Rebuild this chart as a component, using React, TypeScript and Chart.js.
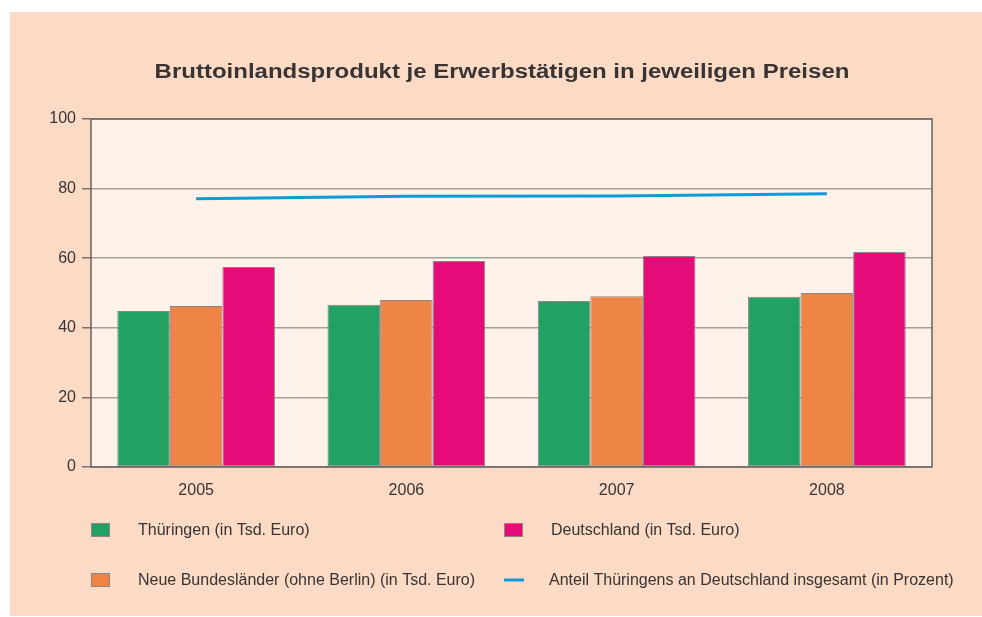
import React, { useEffect, useRef } from "react";
import { Chart, registerables } from "chart.js";

Chart.register(...registerables);

const categories = ["2005", "2006", "2007", "2008"];
const thueringen = [44.8, 46.6, 47.7, 48.9];
const neueLaender = [46.3, 48.0, 49.1, 50.0];
const deutschland = [57.5, 59.2, 60.6, 61.8];
const anteil = [77.1, 77.8, 77.9, 78.5];
const yTicks = [0, 20, 40, 60, 80, 100];

const titleText = "Bruttoinlandsprodukt je Erwerbstätigen in jeweiligen Preisen";
const labelThueringen = "Thüringen (in Tsd. Euro)";
const labelNeue = "Neue Bundesländer (ohne Berlin) (in Tsd. Euro)";
const labelDeutschland = "Deutschland (in Tsd. Euro)";
const labelAnteil = "Anteil Thüringens an Deutschland insgesamt (in Prozent)";

const FONT = "'Liberation Sans', Arial, sans-serif";
const TEXT = "#3a3333";
const GREEN = "#21a262";
const ORANGE = "#ef8447";
const MAGENTA = "#e50c7a";
const BLUE = "#0d9ad8";
const BAR_BORDER = "#8f8682";

const W = 972;
const H = 604;

const decorPlugin = {
  id: "decor",
  beforeDraw(chart: any) {
    const { ctx, chartArea: a } = chart;
    ctx.save();
    ctx.fillStyle = "#fdf2e9";
    ctx.fillRect(a.left, a.top, a.right - a.left, a.bottom - a.top);
    ctx.restore();
  },
  afterDraw(chart: any) {
    const { ctx, chartArea: a } = chart;
    ctx.save();
    // frame
    ctx.strokeStyle = "#6a6060";
    ctx.lineWidth = 1.5;
    ctx.strokeRect(a.left, a.top, a.right - a.left, a.bottom - a.top);
    // title (slightly widened)
    ctx.save();
    ctx.fillStyle = TEXT;
    ctx.font = `bold 20px ${FONT}`;
    ctx.textAlign = "center";
    ctx.textBaseline = "middle";
    ctx.translate(492, 60);
    ctx.scale(1.2, 1);
    ctx.fillText(titleText, 0, 0);
    ctx.restore();
    // legend
    const ds = chart.data.datasets;
    const items = [
      { i: 0, x: 81, y: 518 },
      { i: 2, x: 494, y: 518 },
      { i: 1, x: 81, y: 568 },
      { i: 3, x: 494, y: 568 },
    ];
    ctx.font = `16px ${FONT}`;
    ctx.textAlign = "left";
    ctx.textBaseline = "middle";
    for (const it of items) {
      const d = ds[it.i];
      if (d.type === "line") {
        ctx.strokeStyle = d.borderColor;
        ctx.lineWidth = 3;
        ctx.beginPath();
        ctx.moveTo(it.x, it.y);
        ctx.lineTo(it.x + 20, it.y);
        ctx.stroke();
        ctx.fillStyle = TEXT;
        ctx.fillText(d.label, it.x + 45, it.y + 1);
      } else {
        ctx.fillStyle = d.backgroundColor;
        ctx.fillRect(it.x, it.y - 7, 19, 14);
        ctx.strokeStyle = BAR_BORDER;
        ctx.lineWidth = 1;
        ctx.strokeRect(it.x + 0.5, it.y - 6.5, 18, 13);
        ctx.fillStyle = TEXT;
        ctx.fillText(d.label, it.x + 47, it.y + 1);
      }
    }
    ctx.restore();
  },
};

export default function App() {
  const ref = useRef<HTMLCanvasElement>(null);
  useEffect(() => {
    if (!ref.current) return;
    const chart = new Chart(ref.current, {
      type: "bar",
      data: {
        labels: categories,
        datasets: [
          {
            type: "bar",
            label: labelThueringen,
            data: thueringen,
            backgroundColor: GREEN,
            borderColor: BAR_BORDER,
            borderWidth: 1,
            borderSkipped: false,
            order: 2,
          },
          {
            type: "bar",
            label: labelNeue,
            data: neueLaender,
            backgroundColor: ORANGE,
            borderColor: BAR_BORDER,
            borderWidth: 1,
            borderSkipped: false,
            order: 2,
          },
          {
            type: "bar",
            label: labelDeutschland,
            data: deutschland,
            backgroundColor: MAGENTA,
            borderColor: BAR_BORDER,
            borderWidth: 1,
            borderSkipped: false,
            order: 2,
          },
          {
            type: "line",
            label: labelAnteil,
            data: anteil,
            borderColor: BLUE,
            backgroundColor: BLUE,
            borderWidth: 3,
            pointRadius: 0,
            fill: false,
            order: 1,
          } as any,
        ],
      },
      options: {
        responsive: false,
        animation: false,
        maintainAspectRatio: false,
        layout: { padding: { left: 0, right: 50, top: 107, bottom: 109 } },
        datasets: { bar: { categoryPercentage: 0.75, barPercentage: 1.0 } },
        plugins: {
          legend: { display: false },
          title: { display: false },
          tooltip: { enabled: false },
        },
        scales: {
          x: {
            grid: { display: true, drawOnChartArea: false, drawTicks: false },
            border: { display: false },
            ticks: {
              color: TEXT,
              font: { family: FONT, size: 16 },
              padding: 14,
            },
            afterFit(scale: any) {
              scale.height = 40;
            },
          },
          y: {
            min: 0,
            max: 100,
            afterBuildTicks(scale: any) {
              scale.ticks = yTicks.map((v) => ({ value: v }));
            },
            grid: {
              color: "#a99d97",
              lineWidth: 1.5,
              tickLength: 9,
              tickColor: "#7a7070",
              drawTicks: true,
            },
            border: { display: false },
            ticks: {
              color: TEXT,
              font: { family: FONT, size: 16 },
              padding: 6,
            },
            afterFit(scale: any) {
              scale.width = 81;
            },
          },
        },
      },
      plugins: [decorPlugin],
    });
    return () => chart.destroy();
  }, []);

  return (
    <div
      style={{
        position: "absolute",
        left: 10,
        top: 12,
        width: W,
        height: H,
        background: "#fbdbc5",
      }}
    >
      <canvas ref={ref} width={W} height={H} style={{ display: "block", width: W, height: H }} />
    </div>
  );
}
